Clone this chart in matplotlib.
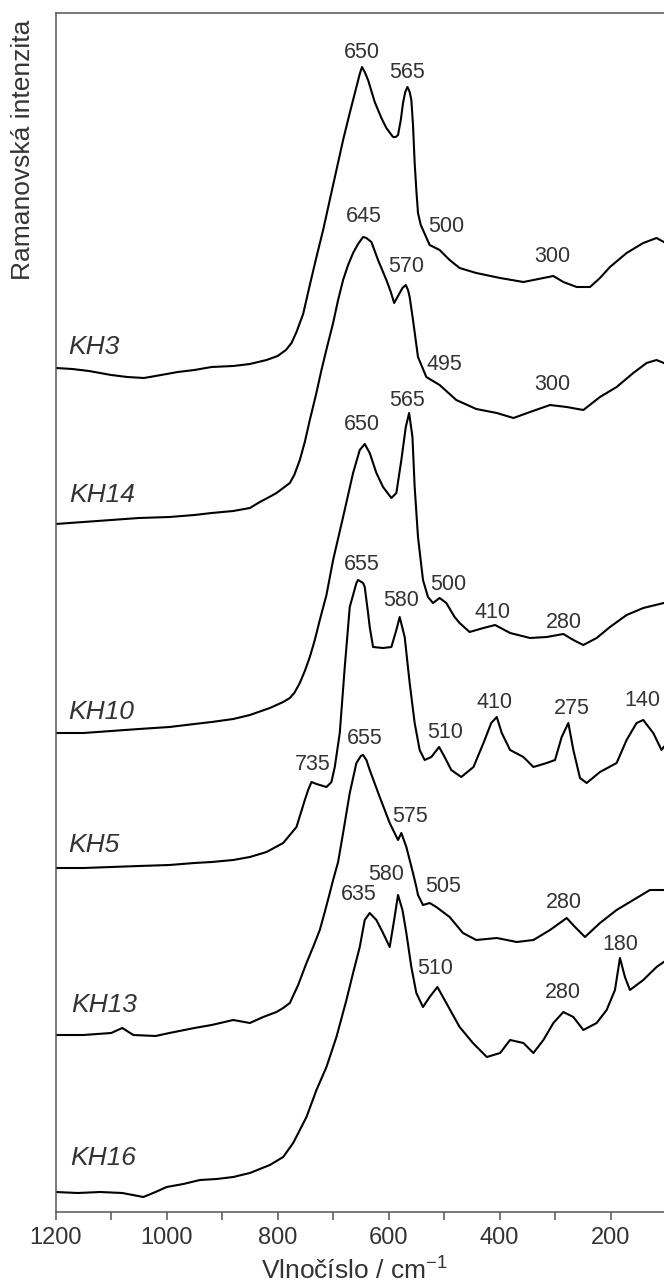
import matplotlib
matplotlib.use('Agg')
import matplotlib.pyplot as plt
from matplotlib.ticker import MultipleLocator

plt.rcParams['font.family'] = ['Liberation Sans', 'DejaVu Sans']
plt.rcParams['mathtext.default'] = 'regular'

# Raman spectra (wavenumber in cm-1, intensity in arbitrary units incl. offset)
kh3_wn = [1200, 1170, 1140, 1100, 1071, 1041, 1010, 980, 950, 919, 880, 850, 820, 800, 785, 775,
          766, 754, 742, 730, 718, 706, 694, 682, 670, 658, 652, 648, 643, 637, 625, 613, 604, 592,
          587, 583, 578, 574, 570, 566, 562, 559, 556, 553, 550, 547, 542, 538, 526, 508, 490, 472,
          442, 399, 357, 321, 303, 285, 261, 237, 219, 201, 171, 141, 117, 104]
kh3_int = [844, 843, 841, 837, 835, 834, 837, 840, 842, 845, 846, 848, 852, 856, 862, 869,
           880, 898, 927, 955, 982, 1012, 1042, 1072, 1099, 1125, 1138, 1145, 1140, 1132, 1110, 1094, 1084, 1075,
           1075, 1077, 1092, 1109, 1120, 1125, 1120, 1112, 1087, 1049, 1022, 999, 987, 982, 967, 962, 952, 944,
           939, 934, 930, 934, 936, 930, 925, 925, 934, 945, 959, 969, 974, 970]

kh14_wn = [1200, 1150, 1100, 1050, 995, 950, 919, 880, 850, 832, 815, 802, 790, 778, 770, 760, 751,
           742, 731, 721, 710, 700, 691, 682, 673, 664, 655, 646, 640, 631, 619, 604, 596, 590, 585,
           580, 575, 569, 565, 562, 556, 547, 532, 508, 478, 442, 405, 375, 345, 309, 279, 249, 219,
           189, 159, 135, 117, 104]
kh14_int = [688, 690, 692, 694, 695, 697, 699, 701, 704, 710, 715, 719, 724, 729, 737, 752, 770,
            792, 817, 842, 867, 889, 912, 932, 947, 959, 968, 975, 974, 970, 952, 932, 920, 909, 914,
            919, 924, 927, 922, 915, 892, 855, 835, 827, 812, 803, 799, 794, 800, 807, 805, 802, 815,
            825, 839, 849, 852, 849]

kh10_wn = [1200, 1150, 1100, 1050, 995, 950, 919, 880, 850, 814, 790, 778, 770, 760, 751, 742, 733,
           724, 712, 700, 682, 664, 652, 643, 634, 622, 610, 595, 586, 577, 569, 563, 557, 553, 547,
           538, 529, 520, 508, 496, 481, 472, 454, 429, 408, 381, 345, 315, 285, 267, 249, 225, 201,
           171, 141, 104]
kh10_int = [479, 479, 481, 483, 485, 488, 490, 493, 497, 504, 510, 514, 519, 529, 541, 555, 572,
            592, 617, 652, 695, 739, 762, 768, 759, 739, 725, 714, 719, 752, 785, 799, 775, 725, 675,
            632, 615, 609, 614, 609, 595, 589, 580, 584, 587, 579, 574, 575, 578, 572, 567, 574, 585,
            597, 604, 609]

kh5_wn = [1200, 1150, 1100, 1050, 995, 950, 919, 880, 850, 820, 790, 766, 751, 745, 739, 730, 724,
          712, 703, 697, 688, 679, 670, 664, 658, 655, 646, 643, 637, 634, 628, 610, 595, 586, 580,
          571, 562, 553, 544, 535, 523, 509, 499, 487, 469, 447, 429, 415, 405, 396, 381, 357, 339,
          315, 300, 288, 276, 267, 255, 243, 219, 189, 171, 153, 141, 123, 108, 104]
kh5_int = [344, 344, 345, 346, 347, 349, 350, 352, 355, 360, 369, 385, 412, 422, 430, 428, 427,
           425, 430, 445, 479, 545, 605, 617, 629, 632, 629, 625, 599, 585, 565, 564, 565, 582, 595,
           575, 529, 489, 462, 452, 455, 465, 455, 442, 435, 445, 469, 489, 495, 479, 462, 455, 445,
           449, 452, 475, 489, 462, 434, 429, 440, 449, 472, 489, 492, 479, 462, 465]

kh13_wn = [1200, 1150, 1100, 1080, 1060, 1020, 995, 950, 919, 880, 850, 826, 802, 790, 778, 763,
           748, 736, 724, 715, 706, 700, 691, 682, 670, 658, 650, 646, 640, 634, 616, 598, 583, 577,
           568, 556, 550, 547, 538, 526, 514, 490, 466, 442, 405, 369, 339, 309, 279, 264, 246, 219,
           189, 159, 129, 104]
kh13_int = [177, 177, 179, 184, 177, 176, 179, 184, 187, 192, 189, 195, 200, 204, 209, 227,
            249, 265, 282, 300, 319, 332, 350, 379, 419, 449, 456, 457, 452, 442, 415, 389, 372, 379,
            365, 339, 325, 317, 307, 309, 305, 295, 279, 272, 274, 270, 272, 282, 294, 285, 275, 289,
            302, 312, 322, 322]

kh16_wn = [1200, 1160, 1120, 1080, 1042, 1020, 1000, 970, 940, 910, 880, 850, 814, 790, 772, 748,
           730, 712, 694, 676, 664, 652, 643, 634, 622, 610, 598, 590, 583, 575, 568, 559, 550, 538,
           526, 512, 496, 472, 448, 423, 399, 381, 357, 339, 321, 303, 285, 267, 249, 225, 207, 192,
           183, 174, 165, 141, 117, 104]
kh16_int = [20, 19, 20, 19, 15, 20, 25, 28, 32, 33, 35, 39, 47, 55, 69, 95,
            122, 145, 175, 212, 239, 265, 292, 299, 292, 279, 265, 292, 317, 302, 279, 245, 219, 205,
            215, 225, 209, 185, 169, 155, 159, 172, 169, 159, 172, 189, 200, 195, 182, 189, 202, 222,
            254, 235, 222, 232, 245, 250]

spectra = [(kh3_wn, kh3_int), (kh14_wn, kh14_int), (kh10_wn, kh10_int),
           (kh5_wn, kh5_int), (kh13_wn, kh13_int), (kh16_wn, kh16_int)]

# sample names and where they sit
names = ['KH3', 'KH14', 'KH10', 'KH5', 'KH13', 'KH16']
name_x = [1178, 1176, 1178, 1178, 1172, 1174]
name_y = [865, 717, 500, 367, 207, 54]

# peak annotations
peak_text = ['650', '565', '500', '300',
             '645', '570', '495', '300',
             '650', '565', '500', '410', '280',
             '735', '655', '580', '510', '410', '275', '140',
             '655', '575', '505', '280',
             '635', '580', '510', '280', '180']
peak_x = [648, 566, 496, 305,
          645, 569, 499, 305,
          649, 566, 493, 413, 284,
          736, 649, 578, 499, 409, 270, 142,
          643, 562, 502, 284,
          653, 604, 517, 285, 183]
peak_y = [1159, 1139, 985, 955,
          995, 945, 847, 827,
          787, 812, 627, 599, 590,
          447, 647, 612, 480, 510, 503, 512,
          473, 396, 326, 310,
          317, 337, 243, 219, 268]

W, H = 664, 1286
fig = plt.figure(figsize=(W / 100, H / 100), dpi=100)
ax = fig.add_axes([55.7 / W, (H - 1212) / H, (666 - 55.7) / W, (1212 - 12.7) / H])

for wn, inten in spectra:
    ax.plot(wn, inten, color='black', lw=1.5)

for n, x, y in zip(names, name_x, name_y):
    ax.text(x, y, n, fontsize=19, style='italic', color='#333333', ha='left', va='center')

for t, x, y in zip(peak_text, peak_x, peak_y):
    ax.text(x, y, t, fontsize=15.5, color='#333333', ha='center', va='center')

ax.set_xlim(1200, 100)
ax.set_ylim(0, 1199.3)
ax.xaxis.set_major_locator(MultipleLocator(200))
ax.xaxis.set_minor_locator(MultipleLocator(100))
ax.tick_params(axis='x', which='both', direction='out', length=6, width=1.1,
               color='#555555', labelsize=17, labelcolor='#333333', pad=5)
ax.set_yticks([])
ax.spines['right'].set_visible(False)
for s in ['left', 'top', 'bottom']:
    ax.spines[s].set_color('#555555')
    ax.spines[s].set_linewidth(1.1)

fig.text(23 / W, 1 - 150 / H, 'Ramanovská intenzita', rotation=90, fontsize=19,
         color='#333333', ha='center', va='center')
fig.text(354 / W, 1 - 1271 / H, 'Vlnočíslo / cm$^{-1}$', fontsize=19,
         color='#333333', ha='center', va='center')

fig.savefig('out.png', dpi=100)
